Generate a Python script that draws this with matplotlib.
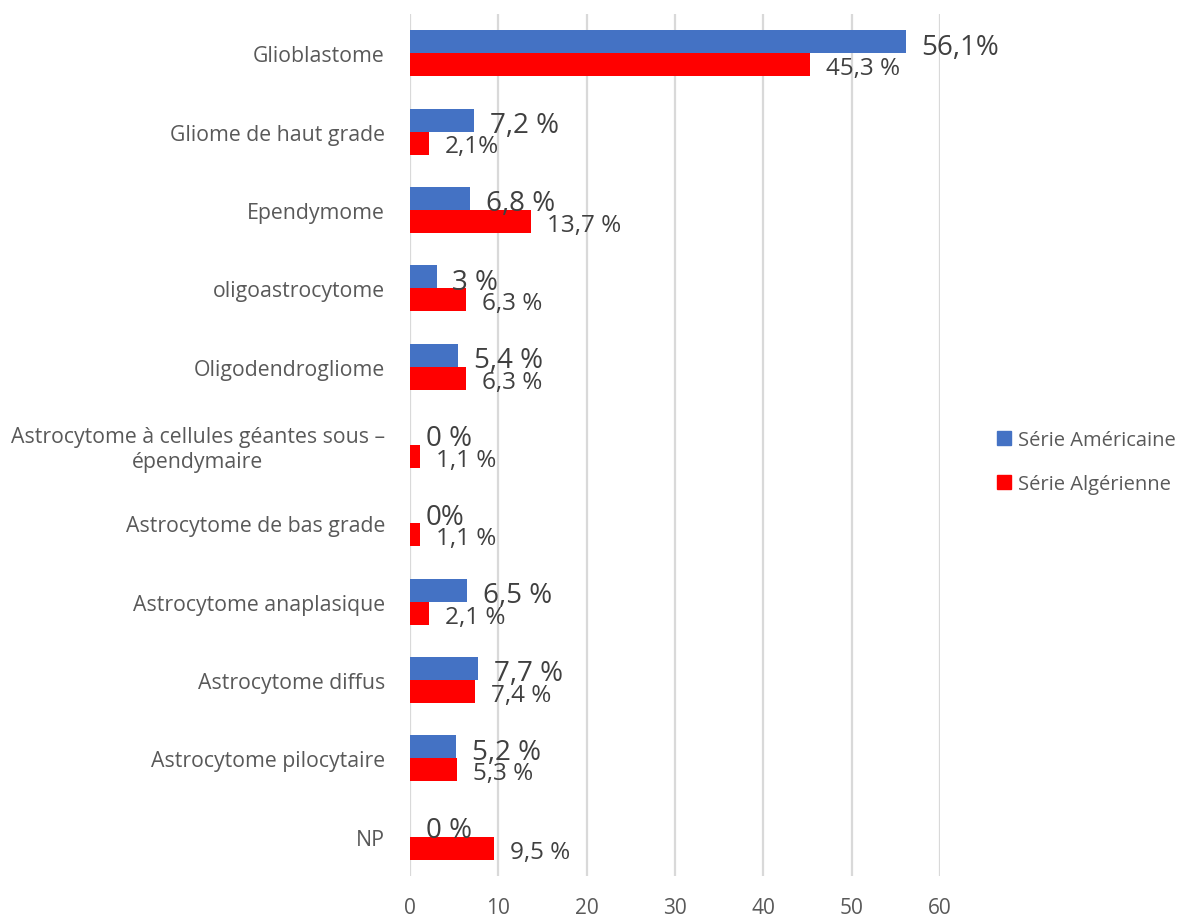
import matplotlib
matplotlib.use("Agg")
import matplotlib.pyplot as plt
from matplotlib.lines import Line2D

plt.rcParams['font.family'] = ['Open Sans', 'DejaVu Sans']

categories = [
    "Glioblastome",
    "Gliome de haut grade",
    "Ependymome",
    "oligoastrocytome",
    "Oligodendrogliome",
    "Astrocytome à cellules géantes sous –\népendymaire",
    "Astrocytome de bas grade",
    "Astrocytome anaplasique",
    "Astrocytome diffus",
    "Astrocytome pilocytaire",
    "NP",
]
serie_americaine = [56.1, 7.2, 6.8, 3.0, 5.4, 0.0, 0.0, 6.5, 7.7, 5.2, 0.0]
serie_algerienne = [45.3, 2.1, 13.7, 6.3, 6.3, 1.1, 1.1, 2.1, 7.4, 5.3, 9.5]
labels_americaine = ["56,1%", "7,2 %", "6,8 %", "3 %", "5,4 %", "0 %", "0%",
                     "6,5 %", "7,7 %", "5,2 %", "0 %"]
labels_algerienne = ["45,3 %", "2,1%", "13,7 %", "6,3 %", "6,3 %", "1,1 %",
                     "1,1 %", "2,1 %", "7,4 %", "5,3 %", "9,5 %"]
x_ticks = [0, 10, 20, 30, 40, 50, 60]
series_names = ["Série Américaine", "Série Algérienne"]

BLUE = "#4472C4"
RED = "#FF0000"
LABEL_GRAY = "#595959"
VALUE_GRAY = "#404040"

fig = plt.figure(figsize=(11.79, 9.20), dpi=100)
ax = fig.add_axes([410 / 1179, 1 - 877 / 920, 530 / 1179, 862 / 920])

ypos = list(range(len(categories)))
bar_h = 0.293
y_blue = [y - bar_h / 2 for y in ypos]
y_red = [y + bar_h / 2 for y in ypos]

ax.barh(y_blue, serie_americaine, height=bar_h, color=BLUE, zorder=3)
ax.barh(y_red, serie_algerienne, height=bar_h, color=RED, zorder=3)

for v, y, t in zip(serie_americaine, y_blue, labels_americaine):
    ax.annotate(t, xy=(v, y), xytext=(11.5, -3.5), textcoords="offset points",
                ha="left", va="center", fontsize=20, color=VALUE_GRAY, zorder=4)
for v, y, t in zip(serie_algerienne, y_red, labels_algerienne):
    ax.annotate(t, xy=(v, y), xytext=(11.5, -2.5), textcoords="offset points",
                ha="left", va="center", fontsize=17.5, color=VALUE_GRAY, zorder=4)

ax.set_xlim(0, 60)
ax.set_ylim(len(categories) - 0.5, -0.5)
ax.set_xticks(x_ticks)
ax.set_xticklabels([str(t) for t in x_ticks])
ax.set_yticks(ypos)
ax.set_yticklabels(categories)
for lbl in ax.get_yticklabels():
    lbl.set_multialignment("center")

ax.tick_params(axis="y", length=0, pad=18, labelsize=15.3, labelcolor=LABEL_GRAY)
ax.tick_params(axis="x", length=0, pad=15, labelsize=15, labelcolor=LABEL_GRAY)

ax.grid(axis="x", color="#D9D9D9", linewidth=1.6, zorder=0)
ax.set_axisbelow(True)
for s in ax.spines.values():
    s.set_visible(False)

handles = [Line2D([], [], marker="s", linestyle="none", markersize=10,
                  color=c) for c in (BLUE, RED)]
fig.legend(handles, series_names, loc="center left",
           bbox_to_anchor=(978 / 1179, 1 - 463 / 920), frameon=False,
           fontsize=14.5, labelcolor=LABEL_GRAY, handlelength=0.8,
           handletextpad=0.3, labelspacing=1.15)

fig.savefig("out.png", dpi=100, facecolor="white")
